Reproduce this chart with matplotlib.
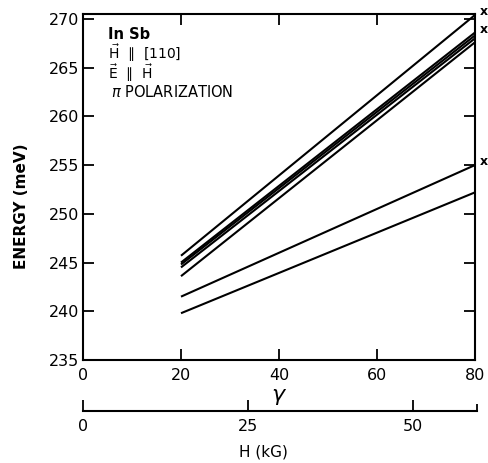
import numpy as np
import matplotlib
matplotlib.use('Agg')
import matplotlib.pyplot as plt

plt.rcParams['font.family'] = ['DejaVu Sans']
plt.rcParams['mathtext.fontset'] = 'dejavusans'

# energy levels (meV) of each transition line at gamma = 20 and gamma = 80
gamma_start = 20
gamma_end = 80
e_start = [245.7, 245.0, 244.8, 244.5, 243.6, 241.5, 239.8]
e_end = [270.4, 268.6, 268.3, 268.0, 267.6, 255.0, 252.2]
marked = [0, 1, 5]  # lines tagged with an 'x' at the right end

y_ticks = [235, 240, 245, 250, 255, 260, 265, 270]
g_ticks = [0, 20, 40, 60, 80]
h_ticks = [0, 25, 50]
h_at_gamma_end = 59.7  # kG at gamma = 80

W, H = 488, 463
fig = plt.figure(figsize=(W / 100, H / 100), dpi=100)

# main axes, pixel box (83,14)-(475,360)
ax = fig.add_axes([83 / W, 1 - 360 / H, (475 - 83) / W, (360 - 14) / H])
for s, e in zip(e_start, e_end):
    ax.plot([gamma_start, gamma_end], [s, e], color='black', lw=1.5,
            solid_capstyle='butt')
for i in marked:
    ax.annotate('x', xy=(gamma_end, e_end[i]), xytext=(6.5, 2.5),
                textcoords='offset points', fontsize=9, fontweight='bold',
                ha='center', va='center', annotation_clip=False)

ax.set_xlim(0, 80)
ax.set_ylim(235, 270.5)
ax.set_xticks(g_ticks)
ax.set_yticks(y_ticks)
ax.tick_params(direction='in', length=8, width=1.3, labelsize=11.5,
               top=True, right=True, color='black')
ax.tick_params(axis='x', pad=6)
ax.tick_params(axis='y', pad=3)
for sp in ax.spines.values():
    sp.set_linewidth(1.5)

fig.text(22 / W, 1 - 206 / H, 'ENERGY (meV)', rotation=90, ha='center',
         va='center', fontsize=11, fontweight='bold')
fig.text(279 / W, 1 - 397 / H, r'$\gamma$', ha='center', va='center',
         fontsize=16)

# annotation block
tx = 5.2
ax.text(tx, 267.9, 'In Sb', fontsize=10.5, fontweight='bold', va='baseline')
ax.text(tx, 265.9, r'$\vec{\mathrm{H}}$  ∥  [110]', fontsize=10,
        va='baseline')
ax.text(tx, 263.8, r'$\vec{\mathrm{E}}$  ∥  $\vec{\mathrm{H}}$', fontsize=10,
        va='baseline')
ax.text(tx + 0.6, 262.0, r'$\pi$ POLARIZATION', fontsize=10.5, va='baseline')

# magnetic field axis underneath
ax2 = fig.add_axes([83 / W, 1 - 411 / H, (477 - 83) / W, 0.0001])
ax2.set_xlim(0, h_at_gamma_end)
ax2.set_yticks([])
for k in ['top', 'left', 'right']:
    ax2.spines[k].set_visible(False)
ax2.spines['bottom'].set_linewidth(1.5)
ax2.set_xticks(h_ticks)
ax2.set_xticks([h_at_gamma_end], minor=True)
ax2.tick_params(axis='x', which='major', direction='in', length=8, width=1.3,
                labelsize=11.5, pad=6)
ax2.tick_params(axis='x', which='minor', direction='in', length=5, width=1.3)
fig.text(263 / W, 1 - 452 / H, 'H (kG)', ha='center', va='center',
         fontsize=11)

fig.savefig('out.png', dpi=100)
